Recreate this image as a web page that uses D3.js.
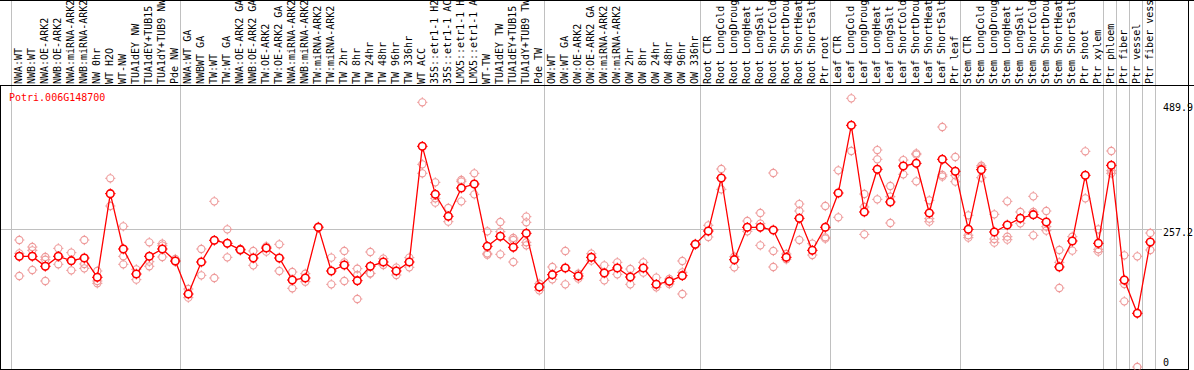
<!DOCTYPE html>
<html>
<head>
<meta charset="utf-8">
<script src="https://cdn.jsdelivr.net/npm/d3@7"></script>
<style>
  html, body { margin: 0; padding: 0; background: #fff; }
  svg { display: block; }
  text { font-family: "DejaVu Sans Mono", monospace; font-size: 10px; }
</style>
</head>
<body>
<svg id="chart" width="1194" height="370"></svg>
<script>
const geneId = "Potri.006G148700";

const categories = [
  "NWA:WT", "NWB:WT", "NWA:OE-ARK2", "NWB:OE-ARK2", "NWA:miRNA-ARK2", "NWB:miRNA-ARK2",
  "NW 0hr", "WT H2O", "WT-NW", "TUA1dEY NW", "TUA1dEY+TUB15 NW", "TUA1dY+TUB9 NW", "Pde NW",
  "NWA:WT GA", "NWBWT GA", "TW:WT", "TW:WT GA", "NWA:OE-ARK2 GA", "NWB:OE-ARK2 GA",
  "TW:OE-ARK2", "TW:OE-ARK2 GA", "NWA:miRNA-ARK2 GA", "NWB:miRNA-ARK2 GA", "TW:miRNA-ARK2",
  "TW:miRNA-ARK2 GA", "TW 2hr", "TW 8hr", "TW 24hr", "TW 48hr", "TW 96hr", "TW 336hr",
  "WT ACC", "35S::etr1-1 H2O", "35S::etr1-1 ACC", "LMX5::etr1-1 H2O", "LMX5::etr1-1 ACC",
  "WT-TW", "TUA1dEY TW", "TUA1dEY+TUB15 TW", "TUA1dY+TUB9 TW", "Pde TW",
  "OW:WT", "OW:WT GA", "OW:OE-ARK2", "OW:OE-ARK2 GA", "OW:miRNA-ARK2", "OW:miRNA-ARK2 GA",
  "OW 2hr", "OW 8hr", "OW 24hr", "OW 48hr", "OW 96hr", "OW 336hr",
  "Root CTR", "Root LongCold", "Root LongDrought", "Root LongHeat", "Root LongSalt",
  "Root ShortCold", "Root ShortDrought", "Root ShortHeat", "Root ShortSalt", "Ptr root",
  "Leaf CTR", "Leaf LongCold", "Leaf LongDrought", "Leaf LongHeat", "Leaf LongSalt",
  "Leaf ShortCold", "Leaf ShortDrought", "Leaf ShortHeat", "Leaf ShortSalt", "Ptr leaf",
  "Stem CTR", "Stem LongCold", "Stem LongDrought", "Stem LongHeat", "Stem LongSalt",
  "Stem ShortCold", "Stem ShortDrought", "Stem ShortHeat", "Stem ShortSalt", "Ptr shoot",
  "Ptr xylem", "Ptr phloem", "Ptr fiber", "Ptr vessel", "Ptr fiber vessel"
];

const meanValues = [
  205.7, 205.7, 187.2, 205.7, 197.7, 202.6, 166.7, 322.3, 219.4, 172.9, 205.7, 219.4, 197.1,
  135.7, 195.2, 235.5, 229.9, 218.1, 202.6, 221.2, 202.6, 161.7, 165.5, 259.7, 178.5, 189.6,
  160.5, 187.2, 195.2, 178.5, 195.2, 410.3, 321.0, 280.1, 332.8, 340.2, 224.3, 242.9, 222.5,
  248.5, 148.7,
  171.7, 184.1, 169.2, 203.9, 174.8, 184.1, 167.3, 184.1, 153.7, 159.3, 169.8, 228.1,
  252.8, 351.4, 199.5, 259.7, 259.7, 254.7, 203.9, 276.4, 216.9, 259.7,
  323.5, 449.3, 288.2, 367.5, 306.8, 373.7, 378.6, 286.3, 386.1, 363.8,
  255.9, 366.9, 251.0, 264.0, 276.4, 283.2, 269.6, 186.0, 234.3, 356.3, 229.9,
  374.9, 161.7, 99.8, 232.4
];

const replicateValues = [
  [236.1, 211.3, 169.2], [223.1, 216.9, 180.3], [204.5, 199.5, 159.9], [220.6, 190.9],
  [212.6, 179.7], [236.1, 191.5, 183.4], [178.5, 159.9, 155.6], [350.8, 299.3],
  [261.5, 205.7, 190.9], [181.6, 162.4], [231.8, 195.8, 187.2], [229.3, 225.6, 204.5],
  [200.8, 196.0], [145.0, 128.9], [219.4, 170.4], [308.0, 165.5], [255.9, 203.9],
  [219.4, 216.3], [215.7, 189.0], [224.3, 214.4], [228.1, 178.5], [176.6, 146.3],
  [173.5, 158.6], [261.0, 258.4], [203.3, 153.7], [215.7, 194.6, 159.9],
  [182.8, 171.0, 126.4], [213.8, 174.1, 173.7], [201.4, 189.6], [184.7, 171.0],
  [203.3, 185.3], [492.1, 376.8, 360.1], [343.3, 313.6, 305.5], [295.6, 270.2],
  [347.7, 344.6, 308.0], [360.1, 321.0], [252.2, 211.3, 208.8], [269.6, 251.6, 209.5],
  [239.8, 236.1, 195.2], [279.5, 269.0, 231.8, 226.2], [154.9, 142.5],
  [185.9, 163.0], [215.7, 153.7], [173.5, 164.2], [210.7, 197.7], [189.0, 161.1],
  [194.6, 172.3], [182.2, 153.7], [194.6, 175.4], [166.1, 148.1], [163.6, 154.3],
  [197.1, 176.0, 135.7], [229.3, 227.0],
  [263.4, 241.7], [368.1, 330.3], [205.1, 185.3], [271.4, 252.2], [286.3, 266.5, 226.2],
  [360.7, 215.7, 185.9], [210.1, 200.2], [303.0, 290.0, 236.1], [229.3, 208.2],
  [299.3, 241.1, 238.6],
  [365.6, 278.3], [499.5, 401.6], [321.6, 297.5, 246.6], [403.4, 386.1, 311.7],
  [336.5, 316.7, 267.7], [384.8, 358.2], [397.2, 394.8, 345.2], [309.9, 275.8, 270.2],
  [446.2, 357.0, 353.9], [390.4, 356.3, 344.6],
  [282.0, 245.0, 240.5], [374.3, 371.2, 352.0], [283.8, 238.0, 231.2], [308.0, 242.3, 236.7],
  [288.2, 267.1], [317.3, 288.2, 244.8], [290.0, 260.9, 253.5], [217.5, 194.6, 146.9],
  [242.3, 216.3], [401.0, 313.6], [255.9, 218.8, 214.4],
  [401.6, 365.0, 360.1], [207.6, 154.3, 122.1], [205.7, 0], [249.1, 217.5]
];

const yTickValues = [489.9, 257.2, 0];
const gridValues = [257.2];
const groupStarts = [0, 13, 41, 53, 63, 73, 84, 85, 86, 87, 88];

// ---- layout ----
const W = 1194, H = 370;
const frameRight = 1188.5, headerY = 85.5, bottomY = 369.5;
const svg = d3.select("#chart");

const x = d3.scaleLinear().domain([0, categories.length - 1]).range([19.3, 19.3 + 13 * (categories.length - 1)]);
const y = d3.scaleLinear().domain([0, 489.9]).range([367, 103.5]);
const step = x(1) - x(0);
const sepX = i => Math.round(x(0) + step * i - 8) + 0.5;

// separators (gray verticals)
svg.append("g").selectAll("line").data(groupStarts).join("line")
  .attr("x1", d => sepX(d)).attr("x2", d => sepX(d))
  .attr("y1", 0).attr("y2", H)
  .attr("stroke", "#c0c0c0").attr("stroke-width", 1);

// horizontal grid
svg.append("g").selectAll("line").data(gridValues).join("line")
  .attr("x1", 0).attr("x2", 1162)
  .attr("y1", d => Math.round(y(d)) + 0.5).attr("y2", d => Math.round(y(d)) + 0.5)
  .attr("stroke", "#c0c0c0").attr("stroke-width", 1);

// frame
const frame = svg.append("g").attr("stroke", "#000").attr("stroke-width", 1).attr("shape-rendering", "crispEdges");
frame.append("line").attr("x1", 0).attr("x2", W).attr("y1", 0.5).attr("y2", 0.5);
frame.append("line").attr("x1", 0).attr("x2", W).attr("y1", headerY).attr("y2", headerY);
frame.append("line").attr("x1", 0).attr("x2", frameRight).attr("y1", bottomY).attr("y2", bottomY);
frame.append("line").attr("x1", 0.5).attr("x2", 0.5).attr("y1", headerY).attr("y2", bottomY);
frame.append("line").attr("x1", frameRight).attr("x2", frameRight).attr("y1", 0).attr("y2", H);

// category labels (rotated)
svg.append("g").selectAll("text").data(categories).join("text")
  .attr("transform", (d, i) => `translate(${x(i) + 3},84) rotate(-90)`)
  .attr("fill", "#000")
  .text(d => d);

// right axis labels
svg.append("g").selectAll("text").data(yTickValues).join("text")
  .attr("x", 1163)
  .attr("y", d => d === 0 ? 366 : y(d) + 7.6)
  .attr("fill", "#000")
  .text(d => d === 0 ? "0" : d3.format(".1f")(d));

// gene id
svg.append("text").attr("x", 9).attr("y", 101).attr("fill", "#ff0000").text(geneId);

// plot clip
svg.append("clipPath").attr("id", "plotclip").append("rect")
  .attr("x", 1).attr("y", 86).attr("width", frameRight - 1).attr("height", bottomY - 86);
const plot = svg.append("g").attr("clip-path", "url(#plotclip)");

function ticks(r) {
  return `M0,${-r}V${-r - 1.5}M0,${r}V${r + 1.5}M${-r},0H${-r - 1.5}M${r},0H${r + 1.5}`;
}

// replicates
const reps = [];
replicateValues.forEach((arr, i) => arr.forEach(v => reps.push({ i, v })));
const repG = plot.append("g");
repG.selectAll("circle").data(reps).join("circle")
  .attr("cx", d => x(d.i)).attr("cy", d => y(d.v)).attr("r", 3.6)
  .attr("fill", "none").attr("stroke", "#ee9a9a").attr("stroke-width", 1.1);
repG.selectAll("path").data(reps).join("path")
  .attr("transform", d => `translate(${x(d.i)},${y(d.v)})`)
  .attr("d", ticks(3.6)).attr("stroke", "#ee9a9a").attr("stroke-width", 1);

// mean line
plot.append("path").datum(meanValues)
  .attr("d", d3.line().x((d, i) => x(i)).y(d => y(d)))
  .attr("fill", "none").attr("stroke", "#ff0000").attr("stroke-width", 1.3);

// mean points
const meanG = plot.append("g");
meanG.selectAll("circle").data(meanValues).join("circle")
  .attr("cx", (d, i) => x(i)).attr("cy", d => y(d)).attr("r", 3.8)
  .attr("fill", "#fff").attr("stroke", "#ff0000").attr("stroke-width", 1.6);
meanG.selectAll("path").data(meanValues).join("path")
  .attr("transform", (d, i) => `translate(${x(i)},${y(d)})`)
  .attr("d", ticks(3.8)).attr("stroke", "#ff0000").attr("stroke-width", 1);
</script>
</body>
</html>
